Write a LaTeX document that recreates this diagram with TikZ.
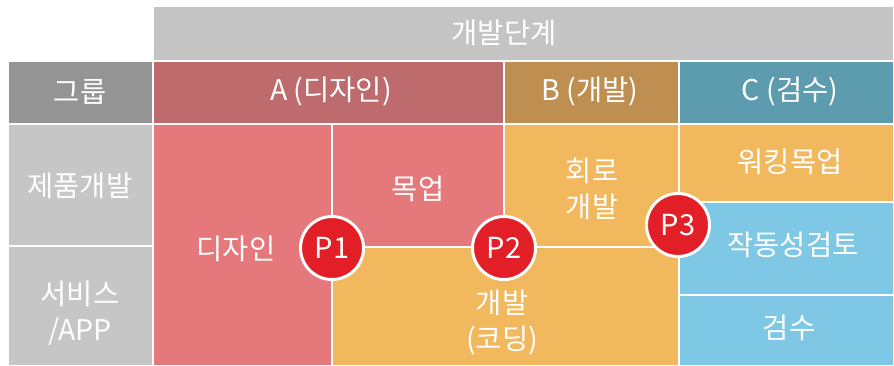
\documentclass[tikz,border=0pt]{standalone}
\usepackage{fontspec}
\setmainfont{Noto Sans CJK KR}
\definecolor{topgray}{HTML}{C4C4C4}
\definecolor{grpgray}{HTML}{949494}
\definecolor{rowgray}{HTML}{C6C6C6}
\definecolor{ahead}{HTML}{BD6B6C}
\definecolor{bhead}{HTML}{BF8F52}
\definecolor{chead}{HTML}{5D9BAF}
\definecolor{pinkc}{HTML}{E5787B}
\definecolor{orangec}{HTML}{F2B85E}
\definecolor{bluec}{HTML}{7EC8E5}
\definecolor{predc}{HTML}{E21F26}
\begin{document}
\begin{tikzpicture}[x=1pt,y=-1pt,
  cellbox/.style={draw=white, line width=1.6pt},
  lbl/.style={text=white, font=\fontsize{28.5}{36}\selectfont, align=center, inner sep=0pt},
  pmark/.style={circle, fill=predc, draw=white, line width=3pt, minimum size=63pt, inner sep=0pt, text=white, font=\fontsize{29}{30}\selectfont}]
\useasboundingbox (0,0) rectangle (894,366);
% header rows
\path[cellbox, fill=topgray] (153,6) rectangle (894,61);
\path[cellbox, fill=grpgray] (8,61) rectangle (153,124);
\path[cellbox, fill=ahead] (153,61) rectangle (504,124);
\path[cellbox, fill=bhead] (504,61) rectangle (679,124);
\path[cellbox, fill=chead] (679,61) rectangle (894,124);
% row labels
\path[cellbox, fill=rowgray] (8,124) rectangle (153,246);
\path[cellbox, fill=rowgray] (8,246) rectangle (153,366);
% body
\path[cellbox, fill=pinkc] (153,124) rectangle (332,366);
\path[cellbox, fill=pinkc] (332,124) rectangle (504,247);
\path[cellbox, fill=orangec] (504,124) rectangle (679,247);
\path[cellbox, fill=orangec] (332,247) rectangle (679,366);
\path[cellbox, fill=orangec] (679,124) rectangle (894,202);
\path[cellbox, fill=bluec] (679,202) rectangle (894,295);
\path[cellbox, fill=bluec] (679,295) rectangle (894,366);
% texts
\node[lbl] (stage) at (504,33) {개발단계};
\node[lbl] (grp) at (80,92) {그룹};
\node[lbl] (colA) at (331,92) {A (디자인)};
\node[lbl] (colB) at (590,92) {B (개발)};
\node[lbl] (colC) at (790,92) {C (검수)};
\node[lbl] (row1) at (80,186) {제품개발};
\node[lbl] (row2) at (80,313) {서비스\\/APP};
\node[lbl] (design) at (236,249) {디자인};
\node[lbl] (mockup) at (418,189) {목업};
\node[lbl] (coding) at (502,323) {개발\\(코딩)};
\node[lbl] (circuit) at (592,189) {회로\\개발};
\node[lbl] (walking) at (790,162) {워킹목업};
\node[lbl] (operate) at (793,245) {작동성검토};
\node[lbl] (verify) at (789,328) {검수};
% phase markers
\node[pmark] (p1) at (332,248) {P1};
\node[pmark] (p2) at (504,248) {P2};
\node[pmark] (p3) at (678,225) {P3};
\end{tikzpicture}
\end{document}
